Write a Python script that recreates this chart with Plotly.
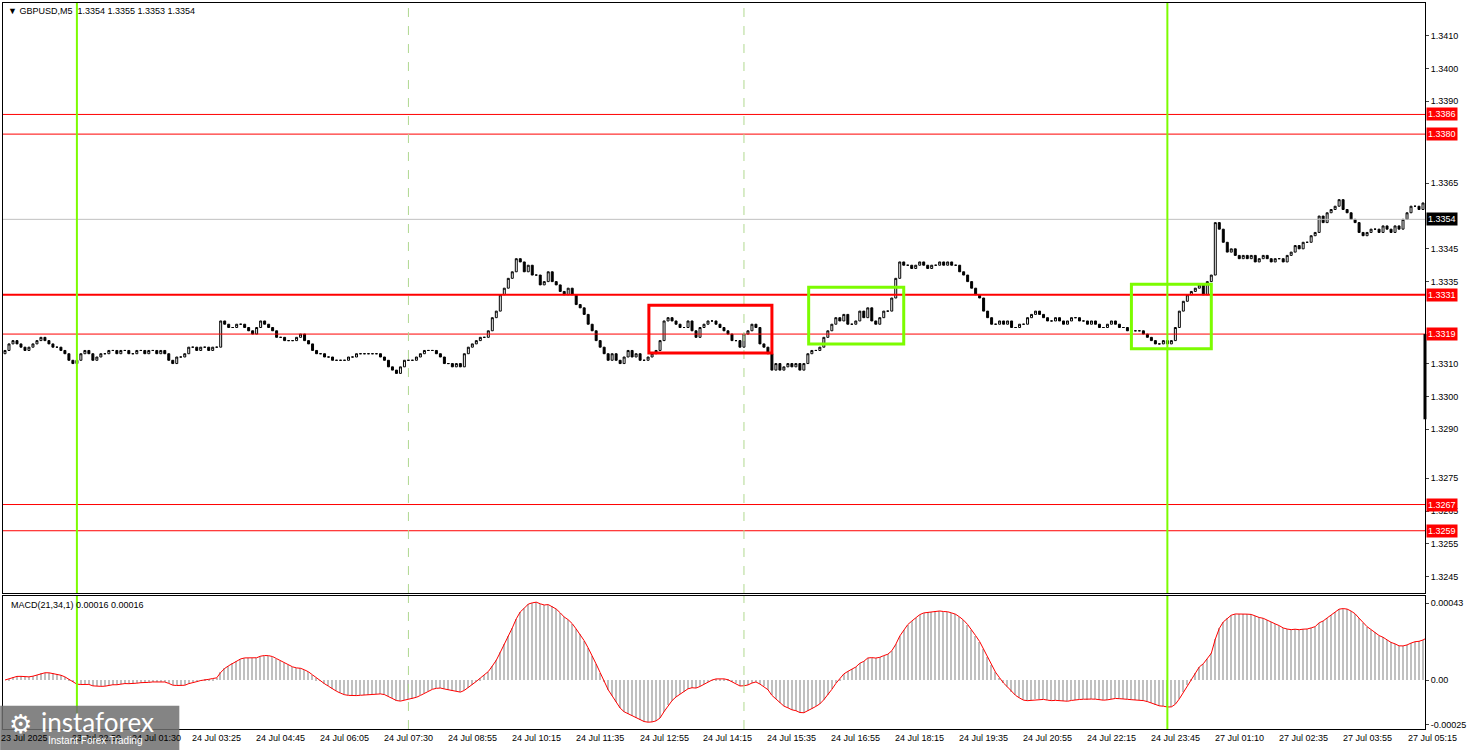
import plotly.graph_objects as go
import numpy as np

# closes in pips above 1.3300
close_pips = [
 14,16,17,16,15,14,15,16,17,18,17,16,15,15,14,13,11,
 10,11,13,14,13,11,12,13,13,14,14,13,
 14,14,13,13,14,14,13,14,14,13,14,13,11,10,12,12,13,15,15,14,15,15,14,15,15,
 23,22,21,21,22,22,21,20,19,21,23,22,21,20,18,18,17,17,17,18,19,
 17,16,14,13,13,12,12,11,11,11,11,12,12,13,13,13,13,13,13,12,11,9,8,7,
 9,11,11,11,12,13,14,14,14,13,12,10,10,9,10,9,13,
 15,16,17,18,18,20,24,26,31,33,36,38,42,41,38,
 40,37,37,34,35,38,35,34,32,31,33,31,28,27,25,22,20,17,
 15,13,11,13,11,10,12,14,12,13,11,11,12,13,
 14,17,23,24,23,22,21,21,23,20,18,21,22,23,23,22,21,20,19,17,17,15,19,20,22,21,16,15,
 13,8,10,8,9,10,9,10,8,10,
 13,14,14,15,18,20,22,24,23,25,22,22,23,26,24,27,23,22,24,26,26,30,36,41,
 40,40,39,40,41,40,39,40,40,41,40,41,40,40,38,37,
 35,33,31,30,26,24,22,22,23,22,23,21,21,22,22,24,
 25,26,25,24,23,23,24,23,22,23,24,24,23,23,22,23,22,21,21,22,23,22,21,21,20,20,20,20,
 19,18,17,16,16,17,16,17,21,26,29,
 31,32,33,34,31,35,37,53,
 51,47,44,45,43,42,43,42,43,41,42,43,42,41,42,42,41,
 43,44,46,45,47,47,49,50,55,53,56,57,58,60,57,56,54,
 53,50,49,50,51,51,50,52,51,50,52,51,54,56,58,58,57,59,61,57,56,55,57,55,54,56,58,57,55,54,
]
open_first_pip = 13

x_tick_bars = [5, 23, 38, 53, 69, 85, 101, 117, 133, 149, 165, 181, 197, 213, 229, 245, 261, 277, 293, 309, 325, 341, 357.5]
x_tick_text = ["23 Jul 2025", "23 Jul 22:50", "24 Jul 01:30", "24 Jul 03:25", "24 Jul 04:45", "24 Jul 06:05",
               "24 Jul 07:30", "24 Jul 08:55", "24 Jul 10:15", "24 Jul 11:35", "24 Jul 12:55", "24 Jul 14:15",
               "24 Jul 15:35", "24 Jul 16:55", "24 Jul 18:15", "24 Jul 19:35", "24 Jul 20:55", "24 Jul 22:15",
               "24 Jul 23:45", "27 Jul 01:10", "27 Jul 02:35", "27 Jul 03:55", "27 Jul 05:15"]
price_ticks = [1.3410, 1.3400, 1.3390, 1.3365, 1.3345, 1.3335, 1.3310, 1.3300, 1.3290, 1.3275, 1.3265, 1.3255, 1.3245]
thin_levels = [1.3386, 1.3380, 1.3319, 1.3267, 1.3259]
thick_levels = [1.3331]
current_price = 1.3354
green_vlines = [18, 291]
dashed_vlines = [101, 185]
zones = [(161.2, 192, 1.33132, 1.33278, "#ff0000"), (201.2, 225, 1.33160, 1.33333, "#7cfc00"),
         (282, 302, 1.33145, 1.33342, "#7cfc00")]

closes = 1.33 + np.array(close_pips) / 10000.0
opens = np.concatenate([[1.33 + open_first_pip / 10000.0], closes[:-1]])
highs = np.maximum(opens, closes)
lows = np.minimum(opens, closes)
n = len(closes)
x = np.arange(n)

def ema(a, p):
    k = 2 / (p + 1); out = [a[0]]
    for v in a[1:]:
        out.append(out[-1] + k * (v - out[-1]))
    return np.array(out)
macd = ema(closes, 21) - ema(closes, 34)

F = "Liberation Sans"
fig = go.Figure()
fig.add_trace(go.Candlestick(x=x, open=opens, high=highs, low=lows, close=closes,
    increasing=dict(fillcolor="white", line=dict(color="black", width=1)),
    decreasing=dict(fillcolor="black", line=dict(color="black", width=1)),
    whiskerwidth=0, xaxis="x", yaxis="y", showlegend=False, hoverinfo="skip"))
fig.add_trace(go.Bar(x=x, y=macd, marker=dict(color="#c0c0c0", line_width=0), width=0.35,
    xaxis="x2", yaxis="y2", showlegend=False))
fig.add_trace(go.Scatter(x=x, y=macd, mode="lines", line=dict(color="red", width=1),
    xaxis="x2", yaxis="y2", showlegend=False))

xr = [-0.5, 355.5]
fig.update_layout(
    width=1468, height=750, margin=dict(l=3, r=43, t=3, b=21, autoexpand=False),
    paper_bgcolor="white", plot_bgcolor="white",
    font=dict(family=F, size=9, color="black"),
    xaxis=dict(domain=[0, 1], range=xr, showticklabels=False, showgrid=False, zeroline=False,
               rangeslider=dict(visible=False), showline=True, mirror=True, linecolor="black", anchor="y"),
    yaxis=dict(domain=[0.1873, 1], range=[1.3240, 1.3420], side="right", tickvals=price_ticks,
               ticktext=[f"{v:.4f}" for v in price_ticks], showgrid=False, zeroline=False,
               showline=True, mirror=True, linecolor="black", ticks="outside", ticklen=3,
               tickfont=dict(size=9, family=F), automargin=False),
    xaxis2=dict(domain=[0, 1], range=xr, showticklabels=False, showgrid=False, zeroline=False,
                showline=True, mirror=True, linecolor="black", anchor="y2"),
    yaxis2=dict(domain=[0, 0.1832], range=[-0.000274, 0.00047], side="right",
                tickvals=[0.00043, 0, -0.00025], ticktext=["0.00043", "0.00", "-0.00025"],
                showgrid=False, zeroline=False, showline=True, mirror=True, linecolor="black",
                ticks="outside", ticklen=3, tickfont=dict(size=9, family=F), anchor="x2", automargin=False),
    bargap=0,
)
shapes = []
for lv in thin_levels:
    shapes.append(dict(type="line", xref="paper", x0=0, x1=1, yref="y", y0=lv, y1=lv, line=dict(color="red", width=1)))
for lv in thick_levels:
    shapes.append(dict(type="line", xref="paper", x0=0, x1=1, yref="y", y0=lv, y1=lv, line=dict(color="red", width=2)))
shapes.append(dict(type="line", xref="paper", x0=0, x1=1, yref="y", y0=current_price, y1=current_price, line=dict(color="#c0c0c0", width=1)))
for b in green_vlines:
    for yr in ("y domain", "y2 domain"):
        shapes.append(dict(type="line", xref="x", x0=b, x1=b, yref=yr, y0=0, y1=1, line=dict(color="#7cfc00", width=2)))
for b in dashed_vlines:
    for yr in ("y domain", "y2 domain"):
        shapes.append(dict(type="line", xref="x", x0=b, x1=b, yref=yr, y0=0, y1=1, line=dict(color="#b0d890", width=1, dash="dash")))
for x0, x1, y0, y1, c in zones:
    shapes.append(dict(type="rect", xref="x", yref="y", x0=x0, x1=x1, y0=y0, y1=y1, line=dict(color=c, width=3)))
shapes.append(dict(type="line", xref="paper", x0=1, x1=1, yref="y", y0=1.3293, y1=1.3319, line=dict(color="black", width=3)))
shapes.append(dict(type="rect", xref="paper", yref="paper", x0=-0.002, x1=0.124, y0=-0.03, y1=0.032,
                   fillcolor="rgba(110,110,110,0.85)", line_width=0, layer="above"))
fig.update_layout(shapes=shapes)

ann = []
for lv in thin_levels + thick_levels:
    ann.append(dict(xref="paper", x=1, xanchor="left", xshift=1, yref="y", y=lv, text=f"{lv:.4f}",
                    showarrow=False, bgcolor="red", font=dict(color="white", size=9), borderpad=1))
ann.append(dict(xref="paper", x=1, xanchor="left", xshift=1, yref="y", y=current_price, text=f"{current_price:.4f}",
                showarrow=False, bgcolor="black", font=dict(color="white", size=9), borderpad=1))
for b, t in zip(x_tick_bars, x_tick_text):
    ann.append(dict(xref="paper", x=(b - xr[0]) / (xr[1] - xr[0]), xanchor="center", yref="paper", y=0,
                    yanchor="top", yshift=-2, text=t, showarrow=False, font=dict(size=9)))
ann.append(dict(xref="paper", x=0.002, xanchor="left", yref="paper", y=1, yanchor="top", yshift=-1,
                text="▼ GBPUSD,M5  1.3354 1.3355 1.3353 1.3354", showarrow=False, font=dict(size=9)))
ann.append(dict(xref="paper", x=0.004, xanchor="left", yref="paper", y=0.1832, yanchor="top", yshift=-2,
                text="MACD(21,34,1) 0.00016 0.00016", showarrow=False, font=dict(size=9)))
ann.append(dict(xref="paper", x=0.025, xanchor="left", yref="paper", y=0.035, yanchor="top",
                text="instaforex", showarrow=False, font=dict(size=26, color="white", family="Lato")))
ann.append(dict(xref="paper", x=0.003, xanchor="left", yref="paper", y=0.03, yanchor="top",
                text="⚙", showarrow=False, font=dict(size=26, color="white")))
ann.append(dict(xref="paper", x=0.03, xanchor="left", yref="paper", y=-0.005, yanchor="top",
                text="Instant Forex Trading", showarrow=False, font=dict(size=10, color="white")))
fig.update_layout(annotations=ann)
fig.write_html("out.html", config={"displayModeBar": False},
               post_script="document.body.style.margin='0';document.body.style.overflow='hidden';")
